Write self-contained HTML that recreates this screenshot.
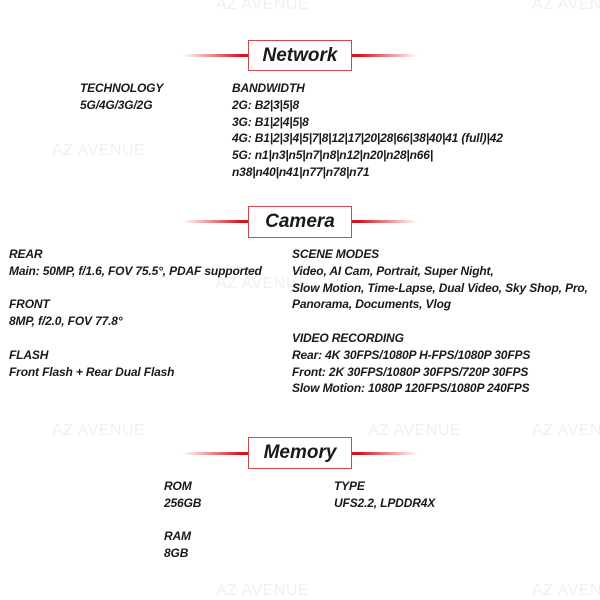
<!DOCTYPE html>
<html><head><meta charset="utf-8"><style>
body{margin:0;width:600px;height:600px;background:#fff;position:relative;overflow:hidden;font-family:"Liberation Sans",sans-serif;}
.t{position:absolute;font-style:italic;font-weight:bold;font-size:12px;letter-spacing:-0.15px;line-height:16.8px;color:#1a1a1a;white-space:nowrap;}
.wm{position:absolute;color:#f0f0f0;font-size:16px;letter-spacing:0.5px;white-space:nowrap;}
.line{position:absolute;height:3px;}
.box{position:absolute;border:1px solid #d0454b;background:#fff;text-align:center;font-style:italic;font-weight:bold;font-size:19px;color:#1a1a1a;box-sizing:border-box;}
</style></head><body>
<div class="wm" style="left:216px;top:-4px">AZ AVENUE</div>
<div class="wm" style="left:532px;top:-4px">AZ AVENUE</div>
<div class="wm" style="left:52px;top:142px">AZ AVENUE</div>
<div class="wm" style="left:216px;top:275px">AZ AVENUE</div>
<div class="wm" style="left:52px;top:422px">AZ AVENUE</div>
<div class="wm" style="left:368px;top:422px">AZ AVENUE</div>
<div class="wm" style="left:532px;top:422px">AZ AVENUE</div>
<div class="wm" style="left:216px;top:582px">AZ AVENUE</div>
<div class="wm" style="left:532px;top:582px">AZ AVENUE</div>

<div class="line" style="left:182px;top:54px;width:236px;background:linear-gradient(90deg,rgba(220,20,30,0),#d8141e 25%,#d8141e 75%,rgba(220,20,30,0))"></div>
<div class="box" style="left:248px;top:40px;width:104px;height:31px;line-height:29px">Network</div>

<div class="line" style="left:182px;top:220px;width:236px;background:linear-gradient(90deg,rgba(220,20,30,0),#d8141e 25%,#d8141e 75%,rgba(220,20,30,0))"></div>
<div class="box" style="left:248px;top:206px;width:104px;height:32px;line-height:30px">Camera</div>

<div class="line" style="left:182px;top:452px;width:236px;background:linear-gradient(90deg,rgba(220,20,30,0),#d8141e 25%,#d8141e 75%,rgba(220,20,30,0))"></div>
<div class="box" style="left:248px;top:437px;width:104px;height:32px;line-height:30px">Memory</div>

<div class="t" style="left:80px;top:80px">TECHNOLOGY<br>5G/4G/3G/2G</div>
<div class="t" style="left:232px;top:80px">BANDWIDTH<br>2G: B2|3|5|8<br>3G: B1|2|4|5|8<br>4G: B1|2|3|4|5|7|8|12|17|20|28|66|38|40|41 (full)|42<br>5G: n1|n3|n5|n7|n8|n12|n20|n28|n66|<br>n38|n40|n41|n77|n78|n71</div>

<div class="t" style="left:9px;top:246px">REAR<br>Main: 50MP, f/1.6, FOV 75.5°, PDAF supported<br><br>FRONT<br>8MP, f/2.0, FOV 77.8°<br><br>FLASH<br>Front Flash + Rear Dual Flash</div>
<div class="t" style="left:292px;top:246px">SCENE MODES<br>Video, AI Cam, Portrait, Super Night,<br>Slow Motion, Time-Lapse, Dual Video, Sky Shop, Pro,<br>Panorama, Documents, Vlog<br><br>VIDEO RECORDING<br>Rear: 4K 30FPS/1080P H-FPS/1080P 30FPS<br>Front: 2K 30FPS/1080P 30FPS/720P 30FPS<br>Slow Motion: 1080P 120FPS/1080P 240FPS</div>

<div class="t" style="left:164px;top:478px">ROM<br>256GB<br><br>RAM<br>8GB</div>
<div class="t" style="left:334px;top:478px">TYPE<br>UFS2.2, LPDDR4X</div>
</body></html>
